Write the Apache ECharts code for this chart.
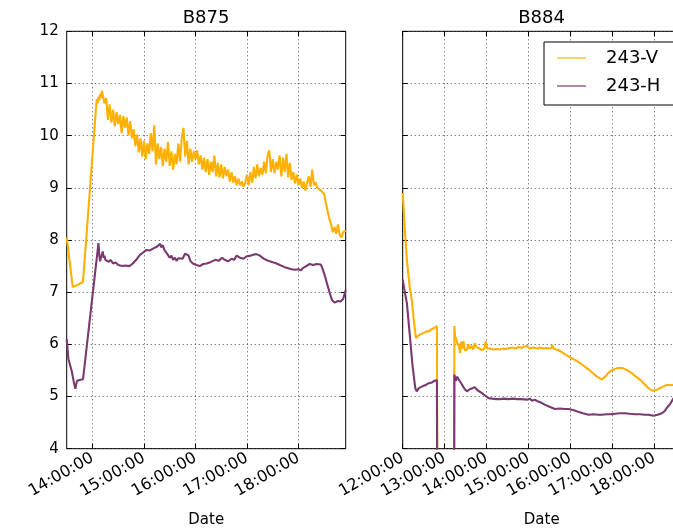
<!DOCTYPE html>
<html>
<head>
<meta charset="utf-8">
<script src="https://cdn.jsdelivr.net/npm/echarts@6/dist/echarts.min.js"></script>
<style>
  html, body { margin: 0; padding: 0; background: #fff; }
  #chart { width: 673px; height: 530px; }
</style>
</head>
<body>
<div id="chart"></div>
<script>
// ---- B875 (left panel) ----
const b875TimeV = ['13:30','13:37','13:44','13:49','14:04','14:05','14:06','14:07','14:08','14:09','14:10','14:11',
  '14:12','14:14','14:16','14:18','14:20','14:22','14:24','14:26','14:28','14:30','14:32','14:34','14:36','14:38',
  '14:40','14:42','14:44','14:46','14:48','14:50','14:52','14:54','14:56','14:58','15:00','15:02','15:04','15:06',
  '15:08','15:10','15:12','15:14','15:16','15:18','15:20','15:22','15:24','15:26','15:28','15:30','15:32','15:34',
  '15:36','15:38','15:40','15:42','15:44','15:46','15:48','15:50','15:52','15:54','15:56','15:58','16:00','16:02',
  '16:04','16:06','16:08','16:10','16:12','16:14','16:16','16:18','16:20','16:22','16:24','16:26','16:28','16:30',
  '16:32','16:34','16:36','16:38','16:40','16:42','16:44','16:46','16:48','16:50','16:52','16:54','16:56','16:58',
  '17:00','17:02','17:04','17:06','17:08','17:10','17:12','17:14','17:16','17:18','17:20','17:22','17:24','17:26',
  '17:28','17:30','17:32','17:34','17:36','17:38','17:40','17:42','17:44','17:46','17:48','17:50','17:52','17:54',
  '17:56','17:58','18:00','18:02','18:04','18:06','18:08','18:10','18:12','18:14','18:16','18:18','18:20','18:22',
  '18:24','18:26','18:28','18:30','18:32','18:34','18:36','18:38','18:40','18:42','18:44','18:46','18:48','18:50',
  '18:52','18:55'];
const b875V = [8.05,7.10,7.15,7.20,10.50,10.70,10.62,10.75,10.68,10.80,10.72,10.86,
  10.78,10.62,10.72,10.30,10.60,10.25,10.50,10.18,10.45,10.22,10.40,10.05,10.38,10.15,
  10.35,10.00,10.28,9.95,10.12,9.80,10.02,9.68,9.95,9.60,9.90,9.55,9.85,9.65,
  10.05,9.70,10.20,9.45,9.85,9.55,9.78,9.42,9.75,9.50,9.88,9.42,9.70,9.35,
  9.65,9.45,9.85,9.50,9.95,10.15,9.60,9.90,9.45,9.75,9.50,9.70,9.55,9.72,
  9.45,9.62,9.35,9.58,9.30,9.55,9.25,9.50,9.30,9.62,9.22,9.48,9.20,9.45,
  9.18,9.40,9.22,9.35,9.12,9.30,9.10,9.22,9.05,9.18,9.05,9.12,9.02,9.10,
  9.25,9.05,9.30,9.10,9.40,9.18,9.45,9.22,9.38,9.25,9.50,9.28,9.62,9.72,
  9.30,9.55,9.28,9.50,9.35,9.62,9.22,9.58,9.30,9.65,9.20,9.48,9.15,9.30,
  9.08,9.25,9.05,9.18,9.00,9.12,8.95,9.10,9.22,9.02,9.35,9.05,9.10,9.00,
  8.98,8.95,8.95,8.88,8.70,8.55,8.40,8.30,8.15,8.25,8.12,8.30,8.10,8.05,
  8.15,8.18];

const b875TimeH = ['13:30','13:32','13:34','13:36','13:38','13:40','13:42','13:44','13:46','13:49','14:07','14:08',
  '14:09','14:10','14:11','14:12','14:13','14:14','14:15','14:17','14:19','14:21','14:24','14:27','14:30','14:32',
  '14:35','14:38','14:40','14:43','14:47','14:51','14:55','14:59','15:03','15:07','15:11','15:15','15:19','15:20',
  '15:22','15:24','15:26','15:28','15:30','15:32','15:34','15:36','15:38','15:40','15:42','15:45','15:48','15:50',
  '15:52','15:54','15:57','16:01','16:05','16:09','16:13','16:18','16:23','16:27','16:31','16:34','16:38','16:42',
  '16:45','16:48','16:52','16:56','17:00','17:04','17:08','17:11','17:15','17:18','17:21','17:25','17:29','17:33',
  '17:37','17:41','17:44','17:48','17:52','17:56','18:00','18:03','18:05','18:09','18:13','18:17','18:21','18:26',
  '18:28','18:31','18:34','18:37','18:39','18:42','18:46','18:49','18:52','18:55'];
const b875H = [6.10,5.72,5.60,5.48,5.30,5.15,5.30,5.28,5.32,5.33,7.94,7.70,
  7.59,7.68,7.72,7.78,7.66,7.70,7.62,7.60,7.58,7.62,7.55,7.57,7.52,7.54,
  7.50,7.51,7.48,7.50,7.55,7.62,7.71,7.76,7.81,7.80,7.84,7.87,7.93,7.86,
  7.90,7.80,7.76,7.71,7.66,7.70,7.62,7.66,7.60,7.65,7.62,7.64,7.74,7.76,
  7.70,7.60,7.55,7.52,7.50,7.54,7.55,7.58,7.62,7.60,7.66,7.62,7.59,7.64,
  7.62,7.70,7.66,7.64,7.69,7.70,7.72,7.73,7.70,7.66,7.63,7.60,7.58,7.56,
  7.53,7.50,7.48,7.46,7.44,7.43,7.44,7.42,7.46,7.50,7.54,7.52,7.54,7.53,
  7.45,7.30,7.12,6.95,6.85,6.80,6.83,6.82,6.87,7.04];

// ---- B884 (right panel) ----
const b884TimeV = ['12:00','12:03','12:06','12:10','12:13','12:16','12:19','12:22','12:26','12:30','12:34','12:37',
  '12:40','12:43','12:46','12:49','12:50','13:13','13:14','13:15','13:17','13:19','13:20','13:22','13:24','13:26',
  '13:27','13:29','13:32','13:34','13:36','13:39','13:41','13:43','13:46','13:50','13:53','13:57','13:59','14:01',
  '14:05','14:10','14:15','14:19','14:24','14:28','14:33','14:38','14:42','14:46','14:50','14:54','14:58','15:02',
  '15:06','15:10','15:14','15:17','15:21','15:25','15:29','15:33','15:34','15:36','15:40','15:43','15:50','15:57',
  '16:04','16:11','16:18','16:26','16:32','16:38','16:45','16:50','16:54','16:59','17:06','17:11','17:16','17:22',
  '17:28','17:33','17:40','17:46','17:52','17:56','17:59','18:04','18:08','18:13','18:18','18:23','18:27','18:32',
  '18:38'];
const b884V = [8.90,8.20,7.62,7.10,6.85,6.45,6.12,6.16,6.20,6.22,6.25,6.24,
  6.28,6.30,6.32,6.35,0,0,6.35,6.15,6.09,5.98,6.02,5.83,6.05,5.92,
  6.06,5.88,5.90,6.00,5.92,5.97,5.90,6.02,5.94,5.92,5.89,5.92,6.06,5.92,
  5.92,5.90,5.91,5.90,5.92,5.91,5.93,5.94,5.92,5.95,5.93,5.96,5.97,5.92,
  5.94,5.93,5.92,5.94,5.92,5.93,5.92,5.93,5.99,5.92,5.90,5.89,5.83,5.77,
  5.72,5.67,5.60,5.52,5.45,5.38,5.33,5.38,5.45,5.50,5.54,5.55,5.54,5.50,
  5.45,5.39,5.32,5.24,5.16,5.12,5.11,5.13,5.16,5.19,5.22,5.22,5.22,5.23,
  5.24];

const b884TimeH = ['12:00','12:03','12:06','12:10','12:14','12:18','12:20','12:23','12:26','12:29','12:33','12:36',
  '12:39','12:42','12:45','12:49','12:50','13:13','13:14','13:16','13:18','13:20','13:22','13:24','13:27','13:29',
  '13:32','13:36','13:40','13:43','13:47','13:53','13:58','14:03','14:08','14:14','14:19','14:25','14:31','14:38',
  '14:44','14:50','14:58','15:02','15:05','15:09','15:13','15:17','15:24','15:31','15:38','15:45','15:52','15:57',
  '16:04','16:11','16:18','16:26','16:33','16:40','16:45','16:52','16:58','17:04','17:11','17:18','17:25','17:33',
  '17:40','17:46','17:52','17:59','18:05','18:11','18:15','18:18','18:23','18:27','18:32','18:38'];
const b884H = [7.24,7.00,6.79,6.20,5.60,5.16,5.10,5.16,5.18,5.20,5.22,5.25,
  5.26,5.27,5.30,5.31,0,0,5.42,5.30,5.38,5.33,5.36,5.25,5.18,5.14,
  5.10,5.14,5.16,5.18,5.12,5.07,5.02,4.97,4.96,4.95,4.95,4.96,4.95,4.96,
  4.95,4.95,4.94,4.96,4.92,4.94,4.91,4.89,4.84,4.80,4.76,4.77,4.76,4.76,
  4.74,4.71,4.68,4.65,4.66,4.65,4.65,4.66,4.66,4.67,4.68,4.68,4.67,4.66,
  4.66,4.65,4.65,4.63,4.65,4.68,4.72,4.78,4.86,4.95,5.05,5.12];

// axis extents (hours of day) and hour ticks
const b875Range = ['13:30', '18:55'];
const b884Range = ['12:00', '18:38'];
const b875Ticks = [14, 15, 16, 17, 18];
const b884Ticks = [12, 13, 14, 15, 16, 17, 18];

const names = ['243-V', '243-H'];
const colors = ['#FFB000', '#7A3A70'];
const FONT = 'DejaVu Sans';

function toHours(s) {
  const p = s.split(':');
  return +p[0] + (+p[1]) / 60;
}
function pairs(times, vals) {
  return times.map((t, i) => [toHours(t), vals[i]]);
}
function hourLabel(v) {
  const h = Math.round(v);
  return (h < 10 ? '0' + h : '' + h) + ':00:00';
}

const gridLine = { show: true, lineStyle: { color: '#000', type: [1, 3], width: 1, opacity: 0.7 } };

function bottomX(grid, range, ticks) {
  return {
    type: 'value', gridIndex: grid, position: 'bottom',
    min: toHours(range[0]), max: toHours(range[1]),
    axisLine: { show: false },
    axisTick: { inside: true, length: 5, customValues: ticks, lineStyle: { color: '#000' } },
    axisLabel: { customValues: ticks, rotate: 30, margin: 8, fontSize: 16, color: '#000',
      fontFamily: FONT, formatter: hourLabel },
    splitLine: gridLine,
    name: 'Date', nameLocation: 'middle', nameGap: 64,
    nameTextStyle: { fontSize: 15, color: '#000', fontFamily: FONT }
  };
}
function topX(grid, range, ticks) {
  return {
    type: 'value', gridIndex: grid, position: 'top',
    min: toHours(range[0]), max: toHours(range[1]),
    axisLine: { show: false },
    axisTick: { inside: true, length: 5, customValues: ticks, lineStyle: { color: '#000' } },
    axisLabel: { show: false }, splitLine: { show: false }
  };
}
function sideY(grid, pos, labels) {
  return {
    type: 'value', gridIndex: grid, position: pos, min: 4, max: 12, interval: 1,
    axisLine: { show: false },
    axisTick: { inside: true, length: 5, lineStyle: { color: '#000' } },
    axisLabel: { show: labels, margin: 8, fontSize: 15, color: '#000', fontFamily: FONT },
    splitLine: pos === 'left' ? gridLine : { show: false }
  };
}
function lineSeries(name, color, xIdx, yIdx, data) {
  return {
    type: 'line', name: name, xAxisIndex: xIdx, yAxisIndex: yIdx,
    data: data, showSymbol: false, symbol: 'none', clip: true,
    lineStyle: { color: color, width: 2.1 }, itemStyle: { color: color },
    emphasis: { disabled: true }
  };
}

// fixed plot boxes; the right panel runs past the canvas edge
const gridBase = { show: true, borderColor: '#000', borderWidth: 1, backgroundColor: 'transparent',
  containLabel: false, outerBoundsMode: 'none' };

const chart = echarts.init(document.getElementById('chart'), null, { renderer: 'canvas' });
chart.setOption({
  animation: false,
  backgroundColor: '#fff',
  textStyle: { fontFamily: FONT },
  title: [
    { text: 'B875', left: 206, top: 9, textAlign: 'center', padding: 0,
      textStyle: { fontSize: 18, fontWeight: 'normal', color: '#000', fontFamily: FONT } },
    { text: 'B884', left: 541.5, top: 9, textAlign: 'center', padding: 0,
      textStyle: { fontSize: 18, fontWeight: 'normal', color: '#000', fontFamily: FONT } }
  ],
  grid: [
    Object.assign({ left: 66.7, top: 31.3, width: 279, height: 417.4 }, gridBase),
    Object.assign({ left: 402.7, top: 31.3, width: 278, height: 417.4 }, gridBase)
  ],
  xAxis: [
    bottomX(0, b875Range, b875Ticks), topX(0, b875Range, b875Ticks),
    bottomX(1, b884Range, b884Ticks), topX(1, b884Range, b884Ticks)
  ],
  yAxis: [
    sideY(0, 'left', true), sideY(0, 'right', false),
    sideY(1, 'left', false), sideY(1, 'right', false)
  ],
  legend: {
    orient: 'vertical', left: 544, top: 42,
    padding: [7, 14, 10, 13], itemGap: 10, itemWidth: 29, itemHeight: 2,
    icon: 'rect', borderColor: '#000', borderWidth: 1, borderRadius: 0,
    backgroundColor: '#fff',
    textStyle: { fontSize: 18, color: '#000', fontFamily: FONT, padding: [0, 0, 0, 15] },
    data: [
      { name: names[0], itemStyle: { opacity: 0.6 } },
      { name: names[1], itemStyle: { opacity: 0.6 } }
    ]
  },
  series: [
    lineSeries(names[0], colors[0], 0, 0, pairs(b875TimeV, b875V)),
    lineSeries(names[1], colors[1], 0, 0, pairs(b875TimeH, b875H)),
    lineSeries(names[0], colors[0], 2, 2, pairs(b884TimeV, b884V)),
    lineSeries(names[1], colors[1], 2, 2, pairs(b884TimeH, b884H))
  ]
});
</script>
</body>
</html>
